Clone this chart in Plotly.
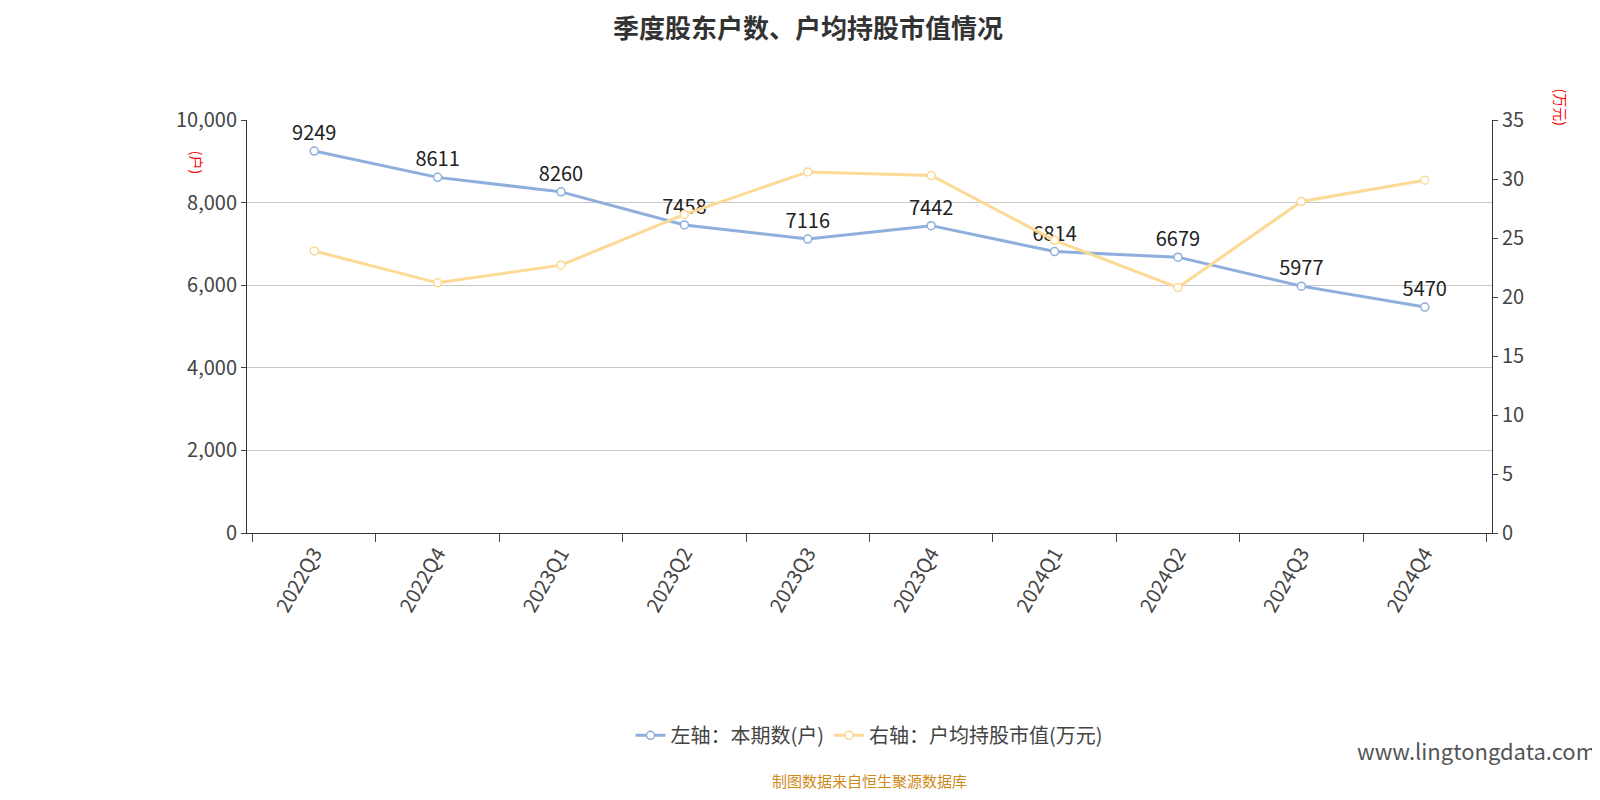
import plotly.graph_objects as go

quarters = ["2022Q3", "2022Q4", "2023Q1", "2023Q2", "2023Q3", "2023Q4",
            "2024Q1", "2024Q2", "2024Q3", "2024Q4"]
holders = [9249, 8611, 8260, 7458, 7116, 7442, 6814, 6679, 5977, 5470]
avg_value = [23.9, 21.2, 22.7, 27.0, 30.6, 30.3, 24.8, 20.8, 28.1, 29.9]

font = "Noto Sans CJK SC"
fig = go.Figure()
fig.add_trace(go.Scatter(
    x=quarters, y=holders, name="左轴：本期数(户)", mode="lines+markers+text",
    text=[str(v) for v in holders + []], textposition="top center",
    textfont=dict(size=20, color="#222"),
    line=dict(color="#8eaedc", width=3),
    marker=dict(size=8, color="white", line=dict(color="#8eaedc", width=1.5)),
))
fig.add_trace(go.Scatter(
    x=quarters, y=avg_value, name="右轴：户均持股市值(万元)", mode="lines+markers",
    yaxis="y2",
    line=dict(color="#fcd995", width=3),
    marker=dict(size=8, color="white", line=dict(color="#fcd995", width=1.5)),
))

fig.update_layout(
    width=1600, height=800, paper_bgcolor="white", plot_bgcolor="white",
    font=dict(family=font, size=18, color="#444"),
    margin=dict(l=239, r=116, t=112, b=275),
    title=dict(text="<b>季度股东户数、户均持股市值情况</b>", x=0.5, y=0.985,
               font=dict(size=26, color="#333")),
    xaxis=dict(type="category", tickson="boundaries", ticks="outside", ticklen=8,
               showline=True, linecolor="#333", tickangle=-60, showgrid=False,
               tickfont=dict(size=20)),
    yaxis=dict(range=[0, 10000], dtick=2000, tickformat=",", showline=True,
               linecolor="#333", ticks="outside", gridcolor="#c8c8c8",
               tickfont=dict(size=20), zeroline=False),
    yaxis2=dict(range=[0, 35], dtick=5, overlaying="y", side="right", showline=True,
                linecolor="#333", ticks="outside", showgrid=False,
                tickfont=dict(size=20)),
    legend=dict(orientation="h", x=0.5, xanchor="center", y=-0.49, yanchor="middle",
                font=dict(size=20)),
    showlegend=True,
    annotations=[
        dict(text="(户)", xref="paper", yref="paper", x=-0.05, y=0.93, showarrow=False,
             textangle=90, font=dict(color="red", size=14)),
        dict(text="(万元)", xref="paper", yref="paper", x=1.065, y=1.08, showarrow=False,
             textangle=90, font=dict(color="red", size=14)),
        dict(text="制图数据来自恒生聚源数据库", xref="paper", yref="paper", x=0.5, y=-0.63,
             showarrow=False, font=dict(color="#d08a1a", size=15)),
        dict(text="www.lingtongdata.com", xref="paper", yref="paper", x=1.085, y=-0.57,
             showarrow=False, xanchor="right", font=dict(color="#555", size=22)),
    ],
)
fig.write_html("out.html")
